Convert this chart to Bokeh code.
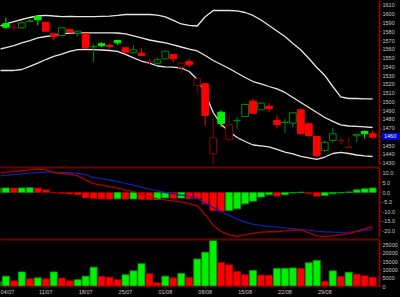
import numpy as np
from bokeh.plotting import figure
from bokeh.layouts import column
from bokeh.models import (Range1d, SingleIntervalTicker, FixedTicker,
                          NumeralTickFormatter, LinearAxis, Div)
from bokeh.embed import file_html
from bokeh.resources import INLINE

# ---------------- data ----------------
dates = ["01/07", "04/07", "05/07", "06/07", "07/07", "08/07",
         "11/07", "12/07", "13/07", "14/07", "15/07",
         "18/07", "19/07", "20/07", "21/07", "22/07",
         "25/07", "26/07", "27/07", "28/07", "29/07",
         "01/08", "02/08", "03/08", "04/08", "05/08",
         "08/08", "09/08", "10/08", "11/08", "12/08",
         "15/08", "16/08", "17/08", "18/08", "19/08",
         "22/08", "23/08", "24/08", "25/08", "26/08",
         "29/08", "30/08", "31/08", "01/09", "02/09",
         "05/09", "06/09"]
week_labels = ["04/07", "11/07", "18/07", "25/07", "01/08",
               "08/08", "15/08", "22/08", "29/08"]

# candles from 04/07 on (01/07 candle lies outside the view)
prev_close = 1582.0
open_ = [1589.1, 1584.6, 1584.5, 1591.8, 1597.4, 1590.9, 1577.7, 1575.7, 1582.6, 1578.4,
         1577.7, 1562.8, 1566.3, 1564.3, 1570.0, 1561.7, 1556.0, 1555.5, 1545.8, 1544.1,
         1549.1, 1554.1, 1539.6, 1546.1, 1518.7, 1520.6, 1440.7, 1488.2, 1456.7, 1478.4,
         1483.3, 1500.7, 1490.9, 1495.0, 1478.7, 1476.4, 1475.6, 1490.9, 1474.9, 1460.4,
         1444.5, 1455.9, 1455.6, 1448.1, 1461.2, 1466.2, 1463.5]
high = [1595.9, 1589.1, 1592.9, 1594.8, 1598.0, 1591.2, 1578.0, 1584.9, 1583.2, 1581.0,
        1578.0, 1566.3, 1568.1, 1566.3, 1570.6, 1562.0, 1564.3, 1561.2, 1549.8, 1550.3,
        1558.6, 1554.4, 1544.6, 1549.1, 1526.7, 1521.3, 1482.0, 1490.1, 1484.4, 1482.5,
        1498.1, 1503.5, 1498.9, 1498.5, 1484.4, 1480.7, 1487.9, 1491.3, 1475.3, 1460.6,
        1455.9, 1470.4, 1459.6, 1459.6, 1463.5, 1467.3, 1467.3]
low = [1583.4, 1580.7, 1583.4, 1590.9, 1587.2, 1580.3, 1570.0, 1575.4, 1579.2, 1574.6,
       1561.5, 1545.3, 1562.4, 1560.6, 1565.1, 1556.3, 1555.8, 1552.6, 1542.6, 1541.5,
       1548.9, 1545.3, 1532.7, 1539.6, 1509.2, 1473.0, 1425.0, 1471.1, 1455.9, 1469.2,
       1482.7, 1486.7, 1490.5, 1488.2, 1469.6, 1464.2, 1471.1, 1463.3, 1459.3, 1436.8,
       1442.5, 1453.9, 1451.3, 1447.9, 1453.9, 1457.8, 1457.8]
close = [1585.2, 1584.9, 1590.2, 1592.2, 1593.7, 1580.7, 1574.6, 1584.5, 1579.5, 1580.7,
         1561.7, 1563.3, 1564.0, 1563.2, 1567.4, 1556.7, 1559.4, 1552.9, 1546.2, 1548.0,
         1557.8, 1549.1, 1544.1, 1542.3, 1526.3, 1484.4, 1459.0, 1475.3, 1474.1, 1478.9,
         1497.0, 1487.0, 1498.5, 1492.1, 1474.1, 1476.8, 1487.5, 1463.5, 1461.6, 1438.8,
         1453.9, 1463.5, 1456.0, 1448.4, 1462.9, 1463.5, 1459.6]

# Bollinger bands (from 01/07 on)
bb_upper = [1586.0, 1588.9, 1591.7, 1594.0, 1596.3, 1598.0, 1598.8, 1598.0, 1597.4, 1597.5,
            1597.4, 1597.3, 1597.4, 1597.6, 1597.8, 1598.6, 1599.7, 1599.7, 1599.7, 1599.7,
            1599.1, 1596.9, 1592.9, 1588.9, 1587.2, 1586.6, 1597.1, 1604.3, 1604.3, 1604.3,
            1603.9, 1602.0, 1598.6, 1593.4, 1587.2, 1580.9, 1574.6, 1566.6, 1559.2, 1549.5,
            1539.2, 1530.1, 1517.5, 1505.6, 1503.8, 1503.8, 1503.3, 1503.3]
bb_middle = [1559.8, 1562.0, 1564.3, 1567.2, 1570.0, 1572.9, 1574.6, 1575.7, 1577.5, 1578.6,
             1578.8, 1578.8, 1578.8, 1578.8, 1578.8, 1578.6, 1577.5, 1575.2, 1572.9, 1570.6,
             1568.9, 1567.2, 1564.9, 1562.6, 1560.3, 1558.1, 1552.9, 1547.2, 1542.6, 1538.1,
             1532.9, 1527.8, 1523.2, 1520.4, 1517.5, 1514.7, 1510.7, 1505.0, 1499.3, 1493.6,
             1487.8, 1482.1, 1477.6, 1473.6, 1472.4, 1471.9, 1471.3, 1470.7]
bb_lower = [1535.8, 1535.8, 1535.8, 1536.9, 1540.4, 1544.3, 1548.3, 1551.8, 1554.6, 1557.5,
            1559.5, 1559.8, 1559.5, 1559.2, 1558.6, 1557.5, 1554.1, 1550.1, 1546.6, 1544.3,
            1540.9, 1540.0, 1539.6, 1538.6, 1534.6, 1525.5, 1509.5, 1487.8, 1474.1, 1466.2,
            1459.3, 1454.7, 1450.7, 1449.6, 1448.5, 1445.6, 1442.7, 1440.5, 1437.6, 1435.9,
            1434.2, 1437.0, 1441.0, 1442.2, 1441.0, 1439.3, 1438.2, 1437.6]

# MACD panel (from 01/07 on)
macd = [10.2, 10.6, 10.9, 11.3, 11.8, 12.2, 11.8, 10.4, 10.0, 9.5,
        8.8, 6.4, 4.6, 3.8, 3.0, 2.3, 1.2, 0.4, -0.9, -2.2,
        -3.3, -3.8, -4.4, -4.9, -5.8, -6.9, -11.5, -17.0, -20.3, -22.0,
        -22.8, -22.0, -21.2, -20.6, -20.4, -20.4, -20.0, -19.5, -19.6, -21.0,
        -22.6, -22.8, -22.6, -21.9, -21.4, -20.2, -18.9, -17.8]
signal = [8.6, 8.9, 9.3, 9.7, 10.1, 10.4, 10.6, 10.6, 10.5, 10.3,
          10.0, 9.2, 7.9, 7.2, 6.5, 5.6, 4.7, 3.8, 2.8, 1.8,
          0.9, 0.0, -0.7, -1.4, -2.0, -3.0, -5.6, -7.7, -10.0, -11.9,
          -13.8, -15.4, -16.4, -17.1, -17.6, -18.0, -18.4, -18.8, -19.3, -19.7,
          -20.1, -20.4, -20.6, -20.7, -20.6, -20.3, -19.7, -19.0]
hist = [2.3, 2.4, 2.3, 2.4, 2.5, 2.3, 1.4, -0.2, -0.5, -0.8,
        -1.2, -2.8, -3.3, -3.4, -3.5, -3.3, -3.5, -3.4, -3.6, -3.8,
        -3.7, -2.8, -3.0, -2.9, -3.3, -3.4, -5.9, -9.4, -9.7, -9.4,
        -8.5, -5.9, -4.5, -2.4, -1.2, -1.9, -1.2, -0.3, 0.2, -0.7,
        -1.9, -1.6, -0.7, -0.2, 0.3, 1.4, 1.9, 2.4]

# volume (from 01/07 on)
volume = [2800, 6200, 3400, 8800, 4700, 5200, 4600, 8800, 5100, 3400,
          4100, 6200, 11600, 6000, 5600, 4100, 7100, 9400, 13700, 7900,
          2200, 6200, 5200, 7900, 5400, 16500, 20600, 27700, 14600, 13100,
          9000, 7100, 9600, 6900, 6800, 10800, 10900, 11200, 10800, 14300,
          15700, 3200, 9400, 6000, 8600, 7400, 6500, 5500]

# ---------------- styling ----------------
BR_GREEN, DK_GREEN = "#00f000", "#008c00"
BR_RED, DK_RED = "#ff0000", "#8c0000"
AXIS_RED = "#a00000"
SEP_RED = "#700000"
LABEL = "#c8c8c8"
FONT = "Liberation Sans"
W = 400
RB = 19
PRICE_H = 165

x_all = np.arange(len(dates))
x_c = x_all[1:]
o, h, l, c = map(np.array, (open_, high, low, close))
prev = np.concatenate([[prev_close], c[:-1]])
up = c >= prev
hollow = c > o
edge = np.where(up, np.where(hollow, DK_GREEN, BR_GREEN), np.where(hollow, DK_RED, BR_RED))
fill = np.where(hollow, "black", edge)

vol = np.array(volume)
vol_up = np.concatenate([[True], vol[1:] > vol[:-1]])
hs = np.array(hist)
hist_up = np.concatenate([[True], hs[1:] > hs[:-1]])

xr = Range1d(0.32, 47.86)


def make_fig(height, y_range, xaxis=False, top=0):
    p = figure(width=W, height=height, x_range=xr, y_range=y_range,
               output_backend="svg", toolbar_location=None,
               x_axis_location=("below" if xaxis else None),
               y_axis_location="right",
               min_border=0, min_border_right=RB, min_border_top=top,
               background_fill_color="black", border_fill_color="black",
               outline_line_color=None)
    p.grid.visible = False
    if top:
        sep = LinearAxis(ticker=FixedTicker(ticks=[]),
                         axis_line_color=SEP_RED, axis_line_width=2,
                         major_tick_line_color=None, minor_tick_line_color=None,
                         major_label_text_font_size="0px")
        p.add_layout(sep, "above")
    return p


def style_y(p, interval, fmt):
    ax = p.yaxis[0]
    ax.ticker = SingleIntervalTicker(interval=interval, num_minor_ticks=2)
    ax.formatter = NumeralTickFormatter(format=fmt)
    ax.axis_line_color = AXIS_RED
    ax.axis_line_width = 1.5
    ax.major_tick_line_color = AXIS_RED
    ax.major_tick_out = 2
    ax.major_tick_in = 0
    ax.minor_tick_line_color = AXIS_RED
    ax.minor_tick_out = 1
    ax.minor_tick_in = 0
    ax.major_label_text_color = LABEL
    ax.major_label_text_font_size = "5.5px"
    ax.major_label_text_font = FONT
    ax.major_label_standoff = 1


# ---- price panel ----
price_range = Range1d(1427.3, 1615.7)
p1 = make_fig(PRICE_H, price_range)
style_y(p1, 10, "0")
for band in (bb_upper, bb_middle, bb_lower):
    p1.line(x_all, band, line_color="#e6e6e6", line_width=1.3)
p1.segment(x0=x_c, y0=l, x1=x_c, y1=h, line_color=edge, line_width=1)
p1.vbar(x=x_c, width=0.84, top=np.maximum(o, c), bottom=np.minimum(o, c),
        fill_color=fill, line_color=edge, line_width=1)

# last-price tag sitting on the price axis
tag_y = (price_range.end - c[-1]) / (price_range.end - price_range.start) * PRICE_H
tag = Div(text=f"{c[-1]:.0f}", width=RB - 1, height=7, margin=0,
          styles={"position": "absolute", "left": f"{W - RB + 1}px",
                  "top": f"{tag_y - 3.5:.1f}px",
                  "background-color": "#0000dd", "color": "#e8e8e8",
                  "font-size": "5.5px", "font-family": FONT,
                  "line-height": "7px", "padding-left": "2px",
                  "overflow": "hidden", "z-index": "10"})

# ---- MACD panel ----
p2 = make_fig(72, Range1d(-23.4, 13.0), top=2)
style_y(p2, 5, "0.0")
p2.vbar(x=x_all, width=0.86, top=np.maximum(hs, 0), bottom=np.minimum(hs, 0),
        fill_color=np.where(hist_up, BR_GREEN, BR_RED),
        line_color=np.where(hist_up, "#00a000", "#a00000"), line_width=0.8)
p2.line(x_all, signal, line_color="#1a1aa8", line_width=1.3)
p2.line(x_all, macd, line_color="#b00000", line_width=1.3)

# ---- volume panel ----
p3 = make_fig(60, Range1d(0, 28300), xaxis=True, top=2)
style_y(p3, 5000, "0")
p3.vbar(x=x_all, width=0.88, top=vol, bottom=0,
        fill_color=np.where(vol_up, BR_GREEN, BR_RED),
        line_color=np.where(vol_up, "#00a000", "#a00000"), line_width=0.8)
xa = p3.below[0]
ticks = [dates.index(d) for d in week_labels]
xa.ticker = FixedTicker(ticks=ticks)
xa.major_label_overrides = {t: d for t, d in zip(ticks, week_labels)}
xa.axis_line_color = SEP_RED
xa.axis_line_width = 1.5
xa.major_tick_line_color = AXIS_RED
xa.major_tick_out = 2
xa.major_tick_in = 0
xa.minor_tick_line_color = None
xa.major_label_text_color = LABEL
xa.major_label_text_font_size = "5.5px"
xa.major_label_text_font = FONT
xa.major_label_standoff = 0
xa.major_label_text_align = "left"

layout = column(p1, p2, p3, tag, spacing=0,
                styles={"background-color": "black", "position": "relative"})

open("out.html", "w").write(file_html(layout, INLINE))
